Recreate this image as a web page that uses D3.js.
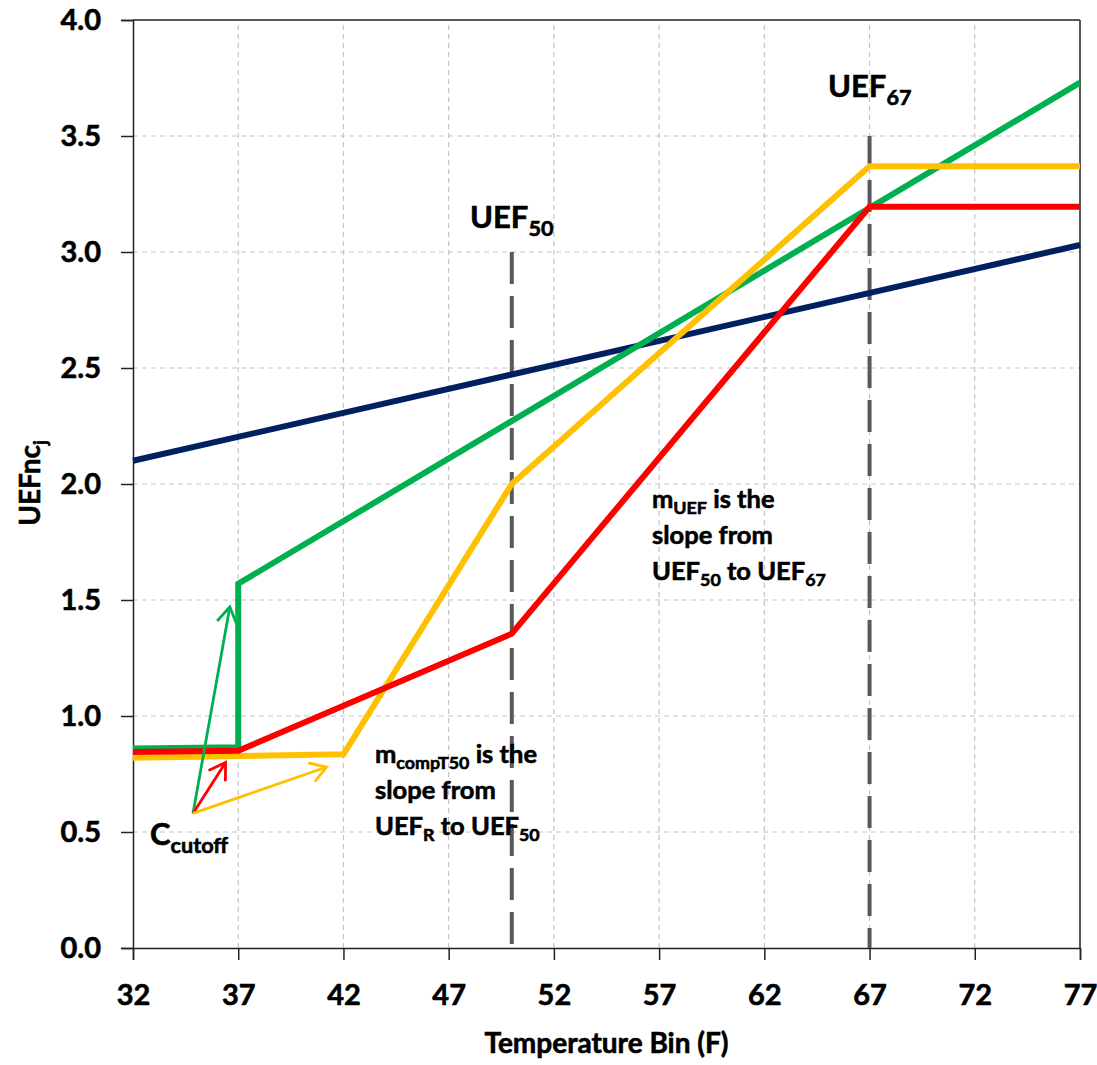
<!DOCTYPE html>
<html>
<head>
<meta charset="utf-8">
<script src="https://cdn.jsdelivr.net/npm/d3@7"></script>
<style>
  body { margin: 0; background: #fff; }
  svg text { font-family: Lato, "Open Sans", sans-serif; font-weight: 700; fill: #000; stroke: #000; stroke-width: 0.6px; }
</style>
</head>
<body>
<div id="chart"></div>
<script>
// temperature bins and tick values
const xTicks = [32, 37, 42, 47, 52, 57, 62, 67, 72, 77];
const yTicks = [0.0, 0.5, 1.0, 1.5, 2.0, 2.5, 3.0, 3.5, 4.0];

// series (temperature, UEFnc)
const navyT = [32, 77];
const navyV = [2.10, 3.03];
const greenT = [32, 37, 37, 77];
const greenV = [0.86, 0.865, 1.57, 3.73];
const yellowT = [32, 42, 50, 67, 77];
const yellowV = [0.82, 0.835, 2.00, 3.37, 3.37];
const redT = [32, 37, 50, 67, 77];
const redV = [0.845, 0.85, 1.355, 3.195, 3.195];

// vertical markers at UEF50 / UEF67
const markerT = [50, 67];
const markerTop = [3.0, 3.5];

// C_cutoff arrows: start point and end points
const arrowStart = [34.85, 0.58];
const arrowEndT = [36.6, 36.4, 41.2];
const arrowEndV = [1.47, 0.80, 0.78];
const arrowColors = ["#00B050", "#FF0000", "#FFC000"];

function drawChart() {
  const width = 1097, height = 1065;
  const margin = { left: 133, top: 20, right: 17, bottom: 117 };

  d3.select("#chart svg").remove();
  const svg = d3.select("#chart").append("svg")
    .attr("width", width)
    .attr("height", height);

  const x = d3.scaleLinear().domain([32, 77]).range([margin.left, width - margin.right]);
  const y = d3.scaleLinear().domain([0, 4]).range([height - margin.bottom, margin.top]);

  // arrowhead marker (open chevron)
  const defs = svg.append("defs");
  arrowColors.forEach((c, i) => {
    defs.append("marker")
      .attr("id", "head" + i)
      .attr("markerUnits", "userSpaceOnUse")
      .attr("viewBox", "-18 -11 22 22")
      .attr("markerWidth", 22)
      .attr("markerHeight", 22)
      .attr("refX", 0)
      .attr("refY", 0)
      .attr("orient", "auto")
      .append("path")
      .attr("d", "M-16,-10 L0,0 L-16,10")
      .attr("fill", "none")
      .attr("stroke", c)
      .attr("stroke-width", 2.8);
  });

  // gridlines
  svg.append("g").selectAll("line.gx")
    .data(xTicks.slice(1, -1))
    .enter().append("line")
    .attr("x1", d => x(d)).attr("x2", d => x(d))
    .attr("y1", y(0)).attr("y2", y(4))
    .attr("stroke", "#c4c4c4").attr("stroke-width", 1.2)
    .attr("stroke-dasharray", "5,4");
  svg.append("g").selectAll("line.gy")
    .data(yTicks.slice(1, -1))
    .enter().append("line")
    .attr("x1", x(32)).attr("x2", x(77))
    .attr("y1", d => y(d)).attr("y2", d => y(d))
    .attr("stroke", "#c4c4c4").attr("stroke-width", 1.2)
    .attr("stroke-dasharray", "5,4");

  // axes
  const xAxis = svg.append("g")
    .attr("transform", `translate(0,${y(0)})`)
    .call(d3.axisBottom(x).tickValues(xTicks).tickSize(12).tickPadding(24).tickFormat(d3.format("d")));
  xAxis.select(".domain").attr("stroke", "#222").attr("stroke-width", 1.5);
  xAxis.selectAll(".tick line").attr("stroke", "#222").attr("stroke-width", 1.5);
  xAxis.selectAll("text").attr("font-size", 29).attr("font-family", null).attr("fill", "#000");

  const yAxis = svg.append("g")
    .attr("transform", `translate(${x(32)},0)`)
    .call(d3.axisLeft(y).tickValues(yTicks).tickSize(12).tickPadding(20).tickFormat(d3.format(".1f")));
  yAxis.select(".domain").attr("stroke", "#222").attr("stroke-width", 1.5);
  yAxis.selectAll(".tick line").attr("stroke", "#222").attr("stroke-width", 1.5);
  yAxis.selectAll("text").attr("font-size", 29).attr("font-family", null).attr("fill", "#000");

  // top and right border
  svg.append("line")
    .attr("x1", x(32)).attr("x2", x(77)).attr("y1", y(4)).attr("y2", y(4))
    .attr("stroke", "#222").attr("stroke-width", 1.5);
  svg.append("line")
    .attr("x1", x(77)).attr("x2", x(77)).attr("y1", y(4)).attr("y2", y(0))
    .attr("stroke", "#444").attr("stroke-width", 1.8);

  // vertical dashed markers
  svg.append("g").selectAll("line")
    .data(markerT)
    .enter().append("line")
    .attr("x1", d => x(d)).attr("x2", d => x(d))
    .attr("y1", (d, i) => y(markerTop[i])).attr("y2", y(0))
    .attr("stroke", "#595959").attr("stroke-width", 4)
    .attr("stroke-dasharray", "32,12");

  // series lines
  const line = d3.line().x(d => x(d[0])).y(d => y(d[1]));
  const series = [
    { t: navyT, v: navyV, c: "#002060" },
    { t: greenT, v: greenV, c: "#00B050" },
    { t: yellowT, v: yellowV, c: "#FFC000" },
    { t: redT, v: redV, c: "#FF0000" }
  ];
  series.forEach(s => {
    svg.append("path")
      .datum(s.t.map((t, i) => [t, s.v[i]]))
      .attr("d", line)
      .attr("fill", "none")
      .attr("stroke", s.c)
      .attr("stroke-width", 6)
      .attr("stroke-linejoin", "miter");
  });

  // C_cutoff arrows
  svg.append("g").selectAll("line")
    .data(arrowEndT)
    .enter().append("line")
    .attr("x1", x(arrowStart[0])).attr("y1", y(arrowStart[1]))
    .attr("x2", d => x(d)).attr("y2", (d, i) => y(arrowEndV[i]))
    .attr("stroke", (d, i) => arrowColors[i])
    .attr("stroke-width", 2.8)
    .attr("marker-end", (d, i) => `url(#head${i})`);

  // text helper: main text with subscripts
  function richText(px, py, parts, size) {
    const t = svg.append("text").attr("x", px).attr("y", py).attr("font-size", size);
    let shift = 0;
    parts.forEach(p => {
      const ts = t.append("tspan").text(p[0]);
      if (p[1]) {
        ts.attr("font-size", size * 0.7).attr("dy", size * 0.25 - shift);
        shift = size * 0.25;
      } else if (shift) {
        ts.attr("dy", -shift);
        shift = 0;
      }
    });
    return t;
  }

  richText(470, 228, [["UEF"], ["50", true]], 31);
  richText(828, 97, [["UEF"], ["67", true]], 31);
  richText(150, 845, [["C"], ["cutoff", true]], 31);

  richText(375, 763, [["m"], ["compT50", true], [" is the"]], 25.5);
  richText(375, 799, [["slope from"]], 25.5);
  richText(375, 835, [["UEF"], ["R", true], [" to UEF"], ["50", true]], 25.5);

  richText(652, 508, [["m"], ["UEF", true], [" is the"]], 25.5);
  richText(652, 544, [["slope from"]], 25.5);
  richText(652, 580, [["UEF"], ["50", true], [" to UEF"], ["67", true]], 25.5);

  // axis titles
  svg.append("text")
    .attr("x", (x(32) + x(77)) / 2).attr("y", 1053)
    .attr("text-anchor", "middle").attr("font-size", 28)
    .text("Temperature Bin (F)");

  const yt = svg.append("text")
    .attr("transform", "translate(40,483) rotate(-90)")
    .attr("text-anchor", "middle").attr("font-size", 28);
  yt.append("tspan").text("UEFnc");
  yt.append("tspan").text("j").attr("font-size", 19).attr("dy", 7);
}

drawChart();
</script>
</body>
</html>
